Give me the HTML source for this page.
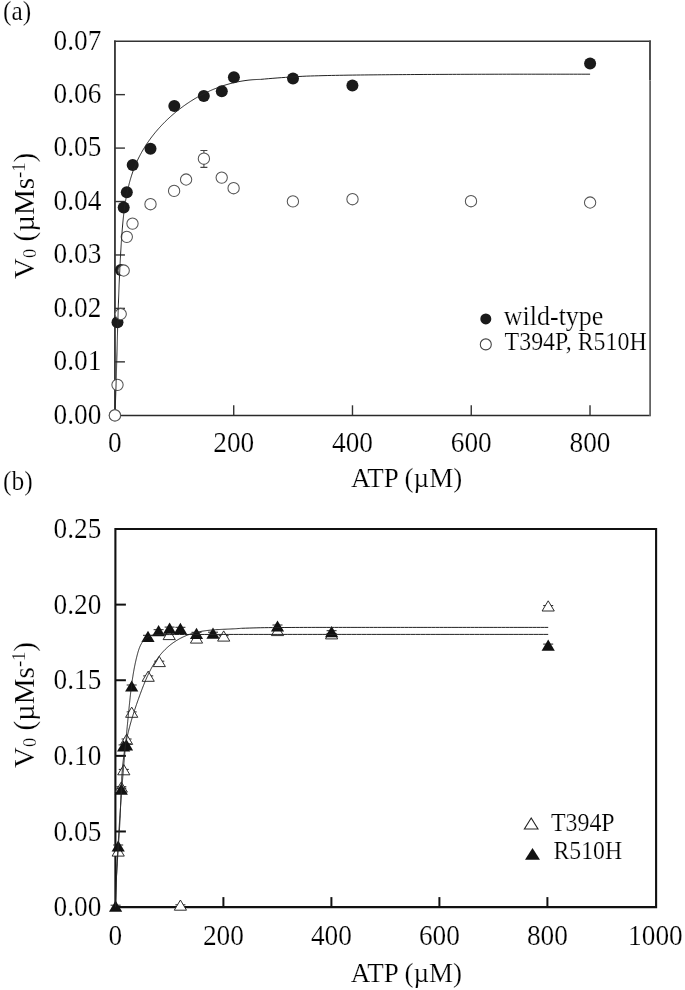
<!DOCTYPE html>
<html><head><meta charset="utf-8"><title>ATP kinetics</title>
<style>
html,body{margin:0;padding:0;background:#fff;width:685px;height:990px;overflow:hidden}
svg{display:block;will-change:transform}
text{font-family:"Liberation Serif",serif;fill:#000;stroke:#fff;stroke-width:0.2px;paint-order:normal}
</style></head>
<body>
<svg width="685" height="990" viewBox="0 0 685 990">
<rect width="685" height="990" fill="#fff"/>
<line x1="114.95" y1="40.400000000000006" x2="114.95" y2="416.1" stroke="#333" stroke-width="1.8"/>
<line x1="114.05" y1="41.2" x2="650.9" y2="41.2" stroke="#333" stroke-width="1.6"/>
<line x1="114.05" y1="415.5" x2="650.9" y2="415.5" stroke="#2a2a2a" stroke-width="1.5"/>
<line x1="650.0" y1="40.400000000000006" x2="650.0" y2="80.6" stroke="#484848" stroke-width="1.9"/>
<line x1="650.1" y1="80.6" x2="650.1" y2="416.1" stroke="#646464" stroke-width="1.8"/>
<line x1="233.72" y1="415.3" x2="233.72" y2="405.3" stroke="#333" stroke-width="1.4"/>
<line x1="352.48" y1="415.3" x2="352.48" y2="405.3" stroke="#333" stroke-width="1.4"/>
<line x1="471.25" y1="415.3" x2="471.25" y2="405.3" stroke="#333" stroke-width="1.4"/>
<line x1="590.02" y1="415.3" x2="590.02" y2="405.3" stroke="#333" stroke-width="1.4"/>
<line x1="114.95" y1="361.86" x2="124.95" y2="361.86" stroke="#333" stroke-width="1.4"/>
<line x1="114.95" y1="308.41" x2="124.95" y2="308.41" stroke="#333" stroke-width="1.4"/>
<line x1="114.95" y1="254.97" x2="124.95" y2="254.97" stroke="#333" stroke-width="1.4"/>
<line x1="114.95" y1="201.53" x2="124.95" y2="201.53" stroke="#333" stroke-width="1.4"/>
<line x1="114.95" y1="148.09" x2="124.95" y2="148.09" stroke="#333" stroke-width="1.4"/>
<line x1="114.95" y1="94.64" x2="124.95" y2="94.64" stroke="#333" stroke-width="1.4"/>
<circle cx="117.5" cy="322.2" r="6.0" fill="#1a1a1a"/>
<circle cx="120.9" cy="270" r="6.0" fill="#1a1a1a"/>
<circle cx="123.7" cy="207.5" r="6.0" fill="#1a1a1a"/>
<circle cx="126.8" cy="192.2" r="6.0" fill="#1a1a1a"/>
<circle cx="132.7" cy="165.1" r="6.0" fill="#1a1a1a"/>
<circle cx="150.5" cy="148.8" r="6.0" fill="#1a1a1a"/>
<circle cx="174.3" cy="105.9" r="6.0" fill="#1a1a1a"/>
<circle cx="203.8" cy="95.9" r="6.0" fill="#1a1a1a"/>
<circle cx="221.8" cy="91.2" r="6.0" fill="#1a1a1a"/>
<circle cx="233.9" cy="77.2" r="6.0" fill="#1a1a1a"/>
<circle cx="293" cy="78.4" r="6.0" fill="#1a1a1a"/>
<circle cx="352.4" cy="85.6" r="6.0" fill="#1a1a1a"/>
<circle cx="590.1" cy="63.6" r="6.0" fill="#1a1a1a"/>
<path d="M203.9,150.5 V167.4 M200.4,150.5 H207.4 M200.4,167.4 H207.4" stroke="#444" stroke-width="1.1" fill="none"/>
<circle cx="114.9" cy="415.4" r="5.65" fill="#fff" stroke="#555" stroke-width="1.05"/>
<circle cx="117.5" cy="384.8" r="5.65" fill="#fff" stroke="#555" stroke-width="1.05"/>
<circle cx="120.7" cy="314" r="5.65" fill="#fff" stroke="#555" stroke-width="1.05"/>
<circle cx="123.7" cy="270.5" r="5.65" fill="#fff" stroke="#555" stroke-width="1.05"/>
<circle cx="126.8" cy="236.8" r="5.65" fill="#fff" stroke="#555" stroke-width="1.05"/>
<circle cx="132.5" cy="223.6" r="5.65" fill="#fff" stroke="#555" stroke-width="1.05"/>
<circle cx="150.5" cy="204.2" r="5.65" fill="#fff" stroke="#555" stroke-width="1.05"/>
<circle cx="174.1" cy="190.9" r="5.65" fill="#fff" stroke="#555" stroke-width="1.05"/>
<circle cx="186.1" cy="179.5" r="5.65" fill="#fff" stroke="#555" stroke-width="1.05"/>
<circle cx="203.9" cy="158.7" r="5.65" fill="#fff" stroke="#555" stroke-width="1.05"/>
<circle cx="221.7" cy="177.6" r="5.65" fill="#fff" stroke="#555" stroke-width="1.05"/>
<circle cx="233.6" cy="188.2" r="5.65" fill="#fff" stroke="#555" stroke-width="1.05"/>
<circle cx="292.9" cy="201.4" r="5.65" fill="#fff" stroke="#555" stroke-width="1.05"/>
<circle cx="352.5" cy="199.2" r="5.65" fill="#fff" stroke="#555" stroke-width="1.05"/>
<circle cx="471" cy="201.2" r="5.65" fill="#fff" stroke="#555" stroke-width="1.05"/>
<circle cx="590.1" cy="202.5" r="5.65" fill="#fff" stroke="#555" stroke-width="1.05"/>
<path d="M114.95,415.30 L114.99,414.29 L115.03,413.28 L115.08,412.27 L115.12,411.26 L115.16,410.25 L115.20,409.24 L115.24,408.22 L115.28,407.21 L115.32,406.20 L115.35,405.18 L115.39,404.17 L115.43,403.16 L115.47,402.14 L115.50,401.13 L115.54,400.11 L115.58,399.09 L115.61,398.08 L115.65,397.06 L115.68,396.04 L115.72,395.02 L115.75,394.00 L115.79,392.98 L115.82,391.96 L115.86,390.94 L115.89,389.92 L115.92,388.90 L115.95,387.88 L115.99,386.86 L116.02,385.84 L116.05,384.81 L116.08,383.79 L116.12,382.77 L116.15,381.74 L116.18,380.72 L116.21,379.69 L116.24,378.67 L116.27,377.64 L116.30,376.62 L116.33,375.59 L116.36,374.56 L116.39,373.54 L116.42,372.51 L116.45,371.48 L116.48,370.45 L116.51,369.43 L116.54,368.40 L116.57,367.37 L116.60,366.34 L116.62,365.31 L116.65,364.28 L116.68,363.25 L116.71,362.22 L116.74,361.19 L116.77,360.15 L116.80,359.12 L116.82,358.09 L116.85,357.06 L116.88,356.03 L116.91,354.99 L116.94,353.96 L116.96,352.93 L116.99,351.89 L117.02,350.86 L117.05,349.82 L117.08,348.79 L117.10,347.75 L117.13,346.72 L117.16,345.68 L117.19,344.65 L117.22,343.61 L117.24,342.58 L117.27,341.54 L117.30,340.50 L117.33,339.47 L117.36,338.43 L117.39,337.39 L117.42,336.36 L117.44,335.32 L117.47,334.28 L117.50,333.24 L117.53,332.20 L117.56,331.16 L117.59,330.13 L117.62,329.09 L117.65,328.05 L117.68,327.01 L117.71,325.97 L117.74,324.93 L117.77,323.89 L117.80,322.85 L117.83,321.81 L117.86,320.77 L117.89,319.73 L117.93,318.69 L117.96,317.65 L117.99,316.61 L118.02,315.57 L118.05,314.53 L118.09,313.48 L118.12,312.44 L118.15,311.40 L118.19,310.36 L118.22,309.32 L118.25,308.28 L118.29,307.23 L118.32,306.19 L118.36,305.15 L118.39,304.11 L118.43,303.07 L118.47,302.02 L118.50,300.98 L118.54,299.94 L118.58,298.90 L118.61,297.85 L118.65,296.81 L118.69,295.77 L118.73,294.72 L118.77,293.68 L118.81,292.64 L118.85,291.60 L118.89,290.55 L118.93,289.51 L118.97,288.47 L119.01,287.42 L119.05,286.38 L119.09,285.34 L119.14,284.29 L119.18,283.25 L119.23,282.21 L119.27,281.17 L119.31,280.12 L119.36,279.08 L119.41,278.04 L119.45,276.99 L119.50,275.95 L119.55,274.91 L119.59,273.86 L119.64,272.82 L119.69,271.78 L119.74,270.73 L119.79,269.69 L119.84,268.65 L119.89,267.61 L119.95,266.56 L120.00,265.52 L120.05,264.48 L120.11,263.44 L120.16,262.39 L120.22,261.35 L120.27,260.31 L120.33,259.27 L120.38,258.23 L120.44,257.18 L120.50,256.14 L120.56,255.10 L120.62,254.06 L120.68,253.02 L120.74,251.97 L120.80,250.93 L120.86,249.89 L120.93,248.85 L120.99,247.81 L121.06,246.77 L121.12,245.73 L121.19,244.69 L121.25,243.65 L121.32,242.61 L121.39,241.57 L121.46,240.53 L121.53,239.49 L121.60,238.45 L121.67,237.41 L121.74,236.37 L121.82,235.33 L121.89,234.29 L121.97,233.26 L122.05,232.22 L122.13,231.18 L122.21,230.14 L122.29,229.11 L122.37,228.07 L122.46,227.04 L122.55,226.00 L122.64,224.97 L122.73,223.93 L122.82,222.90 L122.92,221.87 L123.02,220.84 L123.12,219.81 L123.23,218.78 L123.33,217.75 L123.44,216.72 L123.56,215.70 L123.67,214.67 L123.79,213.65 L123.91,212.62 L124.04,211.60 L124.16,210.58 L124.30,209.56 L124.43,208.54 L124.57,207.52 L124.71,206.51 L124.86,205.49 L125.01,204.48 L125.16,203.46 L125.32,202.45 L125.48,201.44 L125.65,200.43 L125.82,199.43 L125.99,198.42 L126.17,197.42 L126.36,196.42 L126.55,195.42 L126.74,194.42 L126.94,193.42 L127.15,192.43 L127.35,191.43 L127.57,190.44 L127.79,189.45 L128.01,188.46 L128.24,187.48 L128.48,186.49 L128.72,185.51 L128.97,184.53 L129.22,183.55 L129.48,182.58 L129.74,181.60 L130.01,180.63 L130.29,179.66 L130.57,178.69 L130.86,177.73 L131.16,176.77 L131.46,175.81 L131.77,174.85 L132.09,173.89 L132.41,172.94 L132.74,171.99 L133.08,171.04 L133.42,170.09 L133.77,169.15 L134.13,168.21 L134.50,167.27 L134.87,166.34 L135.25,165.41 L135.64,164.48 L136.04,163.55 L136.44,162.63 L136.86,161.70 L137.28,160.79 L137.70,159.87 L138.14,158.96 L138.59,158.05 L139.04,157.14 L139.50,156.24 L139.97,155.34 L140.44,154.44 L140.93,153.55 L141.42,152.66 L141.92,151.77 L142.43,150.89 L142.94,150.01 L143.46,149.13 L143.99,148.26 L144.53,147.39 L145.07,146.52 L145.62,145.66 L146.18,144.80 L146.75,143.94 L147.32,143.09 L147.90,142.24 L148.49,141.40 L149.08,140.56 L149.68,139.72 L150.29,138.89 L150.90,138.06 L151.52,137.23 L152.15,136.41 L152.78,135.59 L153.42,134.78 L154.06,133.97 L154.72,133.17 L155.37,132.37 L156.04,131.57 L156.71,130.78 L157.38,129.99 L158.07,129.21 L158.76,128.43 L159.45,127.66 L160.15,126.89 L160.85,126.13 L161.57,125.37 L162.28,124.61 L163.00,123.86 L163.73,123.11 L164.47,122.37 L165.20,121.64 L165.95,120.90 L166.70,120.18 L167.45,119.46 L168.21,118.74 L168.97,118.03 L169.74,117.32 L170.52,116.62 L171.29,115.92 L172.08,115.23 L172.87,114.55 L173.66,113.87 L174.46,113.19 L175.26,112.52 L176.07,111.86 L176.88,111.20 L177.69,110.55 L178.51,109.90 L179.33,109.25 L180.16,108.62 L180.99,107.99 L181.83,107.36 L182.67,106.74 L183.51,106.13 L184.36,105.52 L185.21,104.92 L186.07,104.32 L186.93,103.73 L187.79,103.15 L188.66,102.57 L189.53,102.00 L190.40,101.43 L191.28,100.87 L192.16,100.32 L193.04,99.77 L193.93,99.23 L194.82,98.69 L195.72,98.16 L196.62,97.64 L197.52,97.12 L198.42,96.62 L199.33,96.11 L200.24,95.62 L201.16,95.13 L202.08,94.64 L203.00,94.17 L203.92,93.70 L204.85,93.23 L205.78,92.78 L206.71,92.33 L207.65,91.89 L208.59,91.45 L209.53,91.02 L210.47,90.60 L211.42,90.19 L212.37,89.78 L213.32,89.38 L214.28,88.99 L215.24,88.60 L216.20,88.22 L217.16,87.85 L218.12,87.49 L219.09,87.13 L220.06,86.78 L221.03,86.44 L222.01,86.11 L222.99,85.78 L223.97,85.46 L224.95,85.15 L225.93,84.85 L226.92,84.55 L227.91,84.27 L228.90,83.99 L229.89,83.71 L230.88,83.45 L231.88,83.19 L232.88,82.94 L233.88,82.70 L234.88,82.47 L235.88,82.25 L236.89,82.03 L237.89,81.82 L238.90,81.62 L239.91,81.43 L240.92,81.25 L241.94,81.07 L242.95,80.91 L243.97,80.75 L244.99,80.60 L246.01,80.46 L247.03,80.33 L248.05,80.20 L249.07,80.09 L250.10,79.98 L251.12,79.88 L252.15,79.79 L253.18,79.71 L254.21,79.64 L255.24,79.58 L256.27,79.53 L257.30,79.48 L258.33,79.45 L259.37,79.42 L260.40,79.40 L264.57,79.02 L268.75,78.65 L272.92,78.30 L277.09,77.98 L281.27,77.67 L285.44,77.38 L289.61,77.09 L293.79,76.82 L297.96,76.56 L302.13,76.33 L306.31,76.13 L310.48,75.99 L314.65,75.86 L318.83,75.75 L323.00,75.64 L327.17,75.54 L331.35,75.45 L335.52,75.37 L339.69,75.29 L343.87,75.22 L348.04,75.15 L352.22,75.10 L356.39,75.04 L360.56,74.99 L364.74,74.95 L368.91,74.90 L373.08,74.86 L377.26,74.82 L381.43,74.78 L385.60,74.74 L389.78,74.71 L393.95,74.67 L398.12,74.64 L402.30,74.61 L406.47,74.58 L410.64,74.55 L414.82,74.52 L418.99,74.50 L423.16,74.48 L427.34,74.45 L431.51,74.44 L435.68,74.42 L439.86,74.40 L444.03,74.38 L448.20,74.37 L452.38,74.35 L456.55,74.34 L460.72,74.32 L464.90,74.31 L469.07,74.30 L473.24,74.28 L477.42,74.27 L481.59,74.26 L485.76,74.25 L489.94,74.24 L494.11,74.23 L498.28,74.22 L502.46,74.21 L506.63,74.21 L510.81,74.20 L514.98,74.20 L519.15,74.20 L523.33,74.20 L527.50,74.20 L531.67,74.20 L535.85,74.20 L540.02,74.20 L544.19,74.20 L548.37,74.20 L552.54,74.20 L556.71,74.20 L560.89,74.20 L565.06,74.20 L569.23,74.20 L573.41,74.20 L577.58,74.20 L581.75,74.20 L585.93,74.20 L590.10,74.20" fill="none" stroke="#222" stroke-width="1.0" stroke-linejoin="round"/>
<circle cx="114.9" cy="415.4" r="5.65" fill="#fff" stroke="#555" stroke-width="1.05"/>
<circle cx="485.8" cy="318.9" r="5.5" fill="#1a1a1a"/>
<circle cx="485.8" cy="344.4" r="5.5" fill="#fff" stroke="#444" stroke-width="1.1"/>
<text transform="translate(503.8,324.5) scale(1,1.05)" font-size="26">wild-type</text>
<text transform="translate(504.6,349.5) scale(1,1.05)" font-size="23.9">T394P, R510H</text>
<text transform="translate(101.3,423.70) scale(1,1.05)" font-size="27.3" text-anchor="end">0.00</text>
<text transform="translate(101.3,370.26) scale(1,1.05)" font-size="27.3" text-anchor="end">0.01</text>
<text transform="translate(101.3,316.81) scale(1,1.05)" font-size="27.3" text-anchor="end">0.02</text>
<text transform="translate(101.3,263.37) scale(1,1.05)" font-size="27.3" text-anchor="end">0.03</text>
<text transform="translate(101.3,209.93) scale(1,1.05)" font-size="27.3" text-anchor="end">0.04</text>
<text transform="translate(101.3,156.49) scale(1,1.05)" font-size="27.3" text-anchor="end">0.05</text>
<text transform="translate(101.3,103.04) scale(1,1.05)" font-size="27.3" text-anchor="end">0.06</text>
<text transform="translate(101.3,49.60) scale(1,1.05)" font-size="27.3" text-anchor="end">0.07</text>
<text transform="translate(114.95,452) scale(1,1.05)" font-size="27.3" text-anchor="middle">0</text>
<text transform="translate(233.72,452) scale(1,1.05)" font-size="27.3" text-anchor="middle">200</text>
<text transform="translate(352.48,452) scale(1,1.05)" font-size="27.3" text-anchor="middle">400</text>
<text transform="translate(471.25,452) scale(1,1.05)" font-size="27.3" text-anchor="middle">600</text>
<text transform="translate(590.02,452) scale(1,1.05)" font-size="27.3" text-anchor="middle">800</text>
<text transform="translate(406.5,486.6) scale(1,1.05)" font-size="27.0" text-anchor="middle">ATP (µM)</text>
<text transform="translate(33.9,278.9) rotate(-90)" font-size="29">V<tspan font-size="18.5" dy="2">0</tspan><tspan dy="-2"> (µMs</tspan><tspan font-size="18.5" dy="-8.6">-1</tspan><tspan dy="8.6">)</tspan></text>
<text transform="translate(3,19.6) scale(1,1.05)" font-size="25.5">(a)</text>
<path d="M115.4,529.0 H656.1 V907.1 H115.4 Z" fill="none" stroke="#111" stroke-width="2.1"/>
<line x1="223.40" y1="907.1" x2="223.40" y2="897.1" stroke="#111" stroke-width="2"/>
<line x1="331.40" y1="907.1" x2="331.40" y2="897.1" stroke="#111" stroke-width="2"/>
<line x1="439.40" y1="907.1" x2="439.40" y2="897.1" stroke="#111" stroke-width="2"/>
<line x1="547.40" y1="907.1" x2="547.40" y2="897.1" stroke="#111" stroke-width="2"/>
<line x1="115.4" y1="831.48" x2="125.9" y2="831.48" stroke="#111" stroke-width="2"/>
<line x1="115.4" y1="755.86" x2="125.9" y2="755.86" stroke="#111" stroke-width="2"/>
<line x1="115.4" y1="680.24" x2="125.9" y2="680.24" stroke="#111" stroke-width="2"/>
<line x1="115.4" y1="604.62" x2="125.9" y2="604.62" stroke="#111" stroke-width="2"/>
<line x1="113.20" y1="850.70" x2="123.20" y2="850.70" stroke="#222" stroke-width="1"/>
<polygon points="118.20,845.90 124.30,856.10 112.10,856.10" fill="#fff" stroke="#222" stroke-width="0.95" stroke-linejoin="miter"/>
<line x1="116.30" y1="786.70" x2="126.30" y2="786.70" stroke="#222" stroke-width="1"/>
<polygon points="121.30,781.90 127.40,792.10 115.20,792.10" fill="#fff" stroke="#222" stroke-width="0.95" stroke-linejoin="miter"/>
<line x1="118.80" y1="769.40" x2="128.80" y2="769.40" stroke="#222" stroke-width="1"/>
<polygon points="123.80,764.60 129.90,774.80 117.70,774.80" fill="#fff" stroke="#222" stroke-width="0.95" stroke-linejoin="miter"/>
<line x1="121.60" y1="739.00" x2="131.60" y2="739.00" stroke="#222" stroke-width="1"/>
<polygon points="126.60,734.20 132.70,744.40 120.50,744.40" fill="#fff" stroke="#222" stroke-width="0.95" stroke-linejoin="miter"/>
<line x1="126.70" y1="711.90" x2="136.70" y2="711.90" stroke="#222" stroke-width="1"/>
<polygon points="131.70,707.10 137.80,717.30 125.60,717.30" fill="#fff" stroke="#222" stroke-width="0.95" stroke-linejoin="miter"/>
<line x1="143.20" y1="675.90" x2="153.20" y2="675.90" stroke="#222" stroke-width="1"/>
<polygon points="148.20,671.10 154.30,681.30 142.10,681.30" fill="#fff" stroke="#222" stroke-width="0.95" stroke-linejoin="miter"/>
<line x1="154.30" y1="661.20" x2="164.30" y2="661.20" stroke="#222" stroke-width="1"/>
<polygon points="159.30,656.40 165.40,666.60 153.20,666.60" fill="#fff" stroke="#222" stroke-width="0.95" stroke-linejoin="miter"/>
<line x1="164.20" y1="634.20" x2="174.20" y2="634.20" stroke="#222" stroke-width="1"/>
<polygon points="169.20,629.40 175.30,639.60 163.10,639.60" fill="#fff" stroke="#222" stroke-width="0.95" stroke-linejoin="miter"/>
<line x1="175.40" y1="904.80" x2="185.40" y2="904.80" stroke="#222" stroke-width="1"/>
<polygon points="180.40,900.00 186.50,910.20 174.30,910.20" fill="#fff" stroke="#222" stroke-width="0.95" stroke-linejoin="miter"/>
<line x1="191.50" y1="637.70" x2="201.50" y2="637.70" stroke="#222" stroke-width="1"/>
<polygon points="196.50,632.90 202.60,643.10 190.40,643.10" fill="#fff" stroke="#222" stroke-width="0.95" stroke-linejoin="miter"/>
<line x1="218.70" y1="635.70" x2="228.70" y2="635.70" stroke="#222" stroke-width="1"/>
<polygon points="223.70,630.90 229.80,641.10 217.60,641.10" fill="#fff" stroke="#222" stroke-width="0.95" stroke-linejoin="miter"/>
<line x1="272.50" y1="630.20" x2="282.50" y2="630.20" stroke="#222" stroke-width="1"/>
<polygon points="277.50,625.40 283.60,635.60 271.40,635.60" fill="#fff" stroke="#222" stroke-width="0.95" stroke-linejoin="miter"/>
<line x1="326.60" y1="633.50" x2="336.60" y2="633.50" stroke="#222" stroke-width="1"/>
<polygon points="331.60,628.70 337.70,638.90 325.50,638.90" fill="#fff" stroke="#222" stroke-width="0.95" stroke-linejoin="miter"/>
<line x1="543.20" y1="605.60" x2="553.20" y2="605.60" stroke="#222" stroke-width="1"/>
<polygon points="548.20,600.80 554.30,611.00 542.10,611.00" fill="#fff" stroke="#222" stroke-width="0.95" stroke-linejoin="miter"/>
<line x1="110.60" y1="905.20" x2="120.60" y2="905.20" stroke="#222" stroke-width="1"/>
<polygon points="115.60,900.60 122.20,911.80 109.00,911.80" fill="#111"/>
<line x1="113.20" y1="845.00" x2="123.20" y2="845.00" stroke="#222" stroke-width="1"/>
<polygon points="118.20,840.40 124.80,851.60 111.60,851.60" fill="#111"/>
<line x1="116.30" y1="788.20" x2="126.30" y2="788.20" stroke="#222" stroke-width="1"/>
<polygon points="121.30,783.60 127.90,794.80 114.70,794.80" fill="#111"/>
<line x1="118.60" y1="744.90" x2="128.60" y2="744.90" stroke="#222" stroke-width="1"/>
<polygon points="123.60,740.30 130.20,751.50 117.00,751.50" fill="#111"/>
<line x1="121.50" y1="743.80" x2="131.50" y2="743.80" stroke="#222" stroke-width="1"/>
<polygon points="126.50,739.20 133.10,750.40 119.90,750.40" fill="#111"/>
<line x1="126.70" y1="685.00" x2="136.70" y2="685.00" stroke="#222" stroke-width="1"/>
<polygon points="131.70,680.40 138.30,691.60 125.10,691.60" fill="#111"/>
<line x1="143.00" y1="635.30" x2="153.00" y2="635.30" stroke="#222" stroke-width="1"/>
<polygon points="148.00,630.70 154.60,641.90 141.40,641.90" fill="#111"/>
<line x1="153.60" y1="629.70" x2="163.60" y2="629.70" stroke="#222" stroke-width="1"/>
<polygon points="158.60,625.10 165.20,636.30 152.00,636.30" fill="#111"/>
<line x1="164.60" y1="627.10" x2="174.60" y2="627.10" stroke="#222" stroke-width="1"/>
<polygon points="169.60,622.50 176.20,633.70 163.00,633.70" fill="#111"/>
<line x1="175.40" y1="627.30" x2="185.40" y2="627.30" stroke="#222" stroke-width="1"/>
<polygon points="180.40,622.70 187.00,633.90 173.80,633.90" fill="#111"/>
<line x1="191.50" y1="632.30" x2="201.50" y2="632.30" stroke="#222" stroke-width="1"/>
<polygon points="196.50,627.70 203.10,638.90 189.90,638.90" fill="#111"/>
<line x1="208.00" y1="632.20" x2="218.00" y2="632.20" stroke="#222" stroke-width="1"/>
<polygon points="213.00,627.60 219.60,638.80 206.40,638.80" fill="#111"/>
<line x1="272.50" y1="625.00" x2="282.50" y2="625.00" stroke="#222" stroke-width="1"/>
<polygon points="277.50,620.40 284.10,631.60 270.90,631.60" fill="#111"/>
<line x1="326.60" y1="630.70" x2="336.60" y2="630.70" stroke="#222" stroke-width="1"/>
<polygon points="331.60,626.10 338.20,637.30 325.00,637.30" fill="#111"/>
<line x1="543.20" y1="644.10" x2="553.20" y2="644.10" stroke="#222" stroke-width="1"/>
<polygon points="548.20,639.50 554.80,650.70 541.60,650.70" fill="#111"/>
<path d="M115.40,907.10 L115.42,906.37 L115.45,905.64 L115.47,904.91 L115.49,904.18 L115.51,903.45 L115.54,902.72 L115.56,901.99 L115.59,901.27 L115.61,900.54 L115.64,899.81 L115.66,899.08 L115.68,898.35 L115.71,897.62 L115.74,896.90 L115.76,896.17 L115.79,895.44 L115.81,894.72 L115.84,893.99 L115.86,893.26 L115.89,892.54 L115.92,891.81 L115.95,891.08 L115.97,890.36 L116.00,889.63 L116.03,888.91 L116.06,888.18 L116.08,887.45 L116.11,886.73 L116.14,886.00 L116.17,885.28 L116.20,884.56 L116.23,883.83 L116.26,883.11 L116.29,882.38 L116.32,881.66 L116.35,880.93 L116.38,880.21 L116.41,879.49 L116.44,878.76 L116.47,878.04 L116.50,877.32 L116.53,876.60 L116.56,875.87 L116.59,875.15 L116.63,874.43 L116.66,873.70 L116.69,872.98 L116.72,872.26 L116.76,871.54 L116.79,870.82 L116.82,870.10 L116.86,869.37 L116.89,868.65 L116.92,867.93 L116.96,867.21 L116.99,866.49 L117.03,865.77 L117.06,865.05 L117.09,864.33 L117.13,863.61 L117.17,862.89 L117.20,862.17 L117.24,861.45 L117.27,860.73 L117.31,860.01 L117.34,859.29 L117.38,858.57 L117.42,857.85 L117.45,857.13 L117.49,856.41 L117.53,855.69 L117.57,854.97 L117.60,854.25 L117.64,853.53 L117.68,852.81 L117.72,852.09 L117.76,851.38 L117.79,850.66 L117.83,849.94 L117.87,849.22 L117.91,848.50 L117.95,847.78 L117.99,847.07 L118.03,846.35 L118.07,845.63 L118.11,844.91 L118.15,844.19 L118.19,843.48 L118.23,842.76 L118.27,842.04 L118.31,841.32 L118.36,840.61 L118.40,839.89 L118.44,839.17 L118.48,838.46 L118.52,837.74 L118.57,837.02 L118.61,836.30 L118.65,835.59 L118.69,834.87 L118.74,834.15 L118.78,833.44 L118.82,832.72 L118.87,832.00 L118.91,831.29 L118.96,830.57 L119.00,829.86 L119.04,829.14 L119.09,828.42 L119.13,827.71 L119.18,826.99 L119.22,826.27 L119.27,825.56 L119.32,824.84 L119.36,824.13 L119.41,823.41 L119.45,822.70 L119.50,821.98 L119.55,821.26 L119.59,820.55 L119.64,819.83 L119.69,819.12 L119.73,818.40 L119.78,817.69 L119.83,816.97 L119.88,816.25 L119.93,815.54 L119.97,814.82 L120.02,814.11 L120.07,813.39 L120.12,812.68 L120.17,811.96 L120.22,811.25 L120.27,810.53 L120.32,809.82 L120.37,809.10 L120.42,808.38 L120.47,807.67 L120.52,806.95 L120.57,806.24 L120.62,805.52 L120.67,804.81 L120.72,804.09 L120.77,803.38 L120.82,802.66 L120.87,801.95 L120.93,801.23 L120.98,800.52 L121.03,799.80 L121.08,799.09 L121.13,798.37 L121.19,797.66 L121.24,796.94 L121.29,796.23 L121.35,795.51 L121.40,794.79 L121.45,794.08 L121.51,793.36 L121.56,792.65 L121.61,791.93 L121.67,791.22 L121.72,790.50 L121.78,789.79 L121.83,789.07 L121.89,788.36 L121.94,787.64 L122.00,786.93 L122.05,786.21 L122.11,785.49 L122.16,784.78 L122.22,784.06 L122.28,783.35 L122.33,782.63 L122.39,781.92 L122.45,781.20 L122.50,780.48 L122.56,779.77 L122.62,779.05 L122.67,778.34 L122.73,777.62 L122.79,776.90 L122.85,776.19 L122.91,775.47 L122.96,774.76 L123.02,774.04 L123.08,773.32 L123.14,772.61 L123.20,771.89 L123.26,771.17 L123.32,770.46 L123.38,769.74 L123.43,769.02 L123.49,768.31 L123.55,767.59 L123.61,766.87 L123.67,766.16 L123.73,765.44 L123.80,764.72 L123.86,764.00 L123.92,763.29 L123.98,762.57 L124.04,761.85 L124.10,761.13 L124.16,760.42 L124.22,759.70 L124.29,758.98 L124.35,758.26 L124.41,757.55 L124.47,756.83 L124.53,756.11 L124.60,755.39 L124.66,754.67 L124.72,753.96 L124.79,753.24 L124.85,752.52 L124.91,751.80 L124.98,751.08 L125.04,750.36 L125.10,749.64 L125.17,748.92 L125.23,748.20 L125.30,747.49 L125.36,746.77 L125.43,746.05 L125.49,745.33 L125.56,744.61 L125.62,743.89 L125.69,743.17 L125.75,742.45 L125.82,741.73 L125.88,741.01 L125.95,740.29 L126.02,739.57 L126.08,738.85 L126.15,738.12 L126.22,737.40 L126.28,736.68 L126.35,735.96 L126.42,735.24 L126.48,734.52 L126.55,733.80 L126.62,733.08 L126.69,732.35 L126.75,731.63 L126.82,730.91 L126.89,730.19 L126.96,729.46 L127.03,728.74 L127.10,728.02 L127.17,727.30 L127.23,726.57 L127.30,725.85 L127.37,725.13 L127.44,724.40 L127.51,723.68 L127.58,722.96 L127.65,722.23 L127.72,721.51 L127.79,720.78 L127.86,720.06 L127.93,719.34 L128.00,718.61 L128.07,717.89 L128.14,717.16 L128.22,716.44 L128.29,715.71 L128.36,714.98 L128.43,714.26 L128.50,713.53 L128.57,712.81 L128.64,712.08 L128.72,711.35 L128.79,710.63 L128.86,709.90 L128.93,709.17 L129.01,708.45 L129.08,707.72 L129.15,706.99 L129.23,706.26 L129.30,705.54 L129.37,704.81 L129.45,704.08 L129.52,703.35 L129.60,702.63 L129.67,701.90 L129.75,701.17 L129.82,700.44 L129.90,699.71 L129.98,698.98 L130.05,698.26 L130.13,697.53 L130.21,696.80 L130.29,696.07 L130.37,695.35 L130.45,694.62 L130.53,693.89 L130.62,693.17 L130.70,692.44 L130.78,691.71 L130.87,690.99 L130.96,690.26 L131.04,689.54 L131.13,688.81 L131.22,688.09 L131.31,687.36 L131.40,686.64 L131.50,685.91 L131.59,685.19 L131.69,684.47 L131.78,683.75 L131.88,683.03 L131.98,682.31 L132.08,681.58 L132.18,680.86 L132.29,680.15 L132.39,679.43 L132.50,678.71 L132.60,677.99 L132.71,677.28 L132.83,676.56 L132.94,675.84 L133.05,675.13 L133.17,674.42 L133.29,673.70 L133.41,672.99 L133.53,672.28 L133.65,671.57 L133.78,670.86 L133.91,670.15 L134.03,669.44 L134.17,668.74 L134.30,668.03 L134.43,667.33 L134.57,666.62 L134.71,665.92 L134.85,665.22 L135.00,664.52 L135.14,663.82 L135.29,663.12 L135.44,662.42 L135.60,661.72 L135.75,661.03 L135.91,660.33 L136.07,659.64 L136.23,658.95 L136.40,658.26 L136.57,657.57 L136.74,656.88 L136.91,656.19 L137.09,655.51 L137.27,654.83 L137.45,654.14 L137.63,653.46 L137.82,652.78 L138.01,652.11 L138.21,651.44 L138.42,650.77 L138.63,650.11 L138.85,649.45 L139.07,648.80 L139.31,648.16 L139.55,647.53 L139.81,646.90 L140.07,646.28 L140.35,645.67 L140.64,645.07 L140.93,644.48 L141.25,643.90 L141.57,643.33 L141.91,642.78 L142.27,642.24 L142.64,641.71 L143.03,641.19 L143.43,640.69 L143.86,640.21 L144.30,639.74 L144.75,639.29 L145.23,638.85 L145.73,638.43 L146.25,638.03 L146.79,637.65 L147.34,637.29 L147.92,636.95 L148.52,636.63 L149.14,636.33 L149.78,636.05 L150.44,635.79 L151.12,635.56 L151.82,635.35 L152.54,635.17 L153.29,635.01 L154.05,634.87 L154.84,634.77 L155.64,634.69 L156.47,634.63 L157.32,634.60 L158.19,634.61 L159.09,634.64 L160.00,634.70 L164.91,634.64 L169.83,634.58 L174.74,634.53 L179.66,634.50 L184.57,634.49 L189.48,634.48 L194.40,634.47 L199.31,634.47 L204.23,634.46 L209.14,634.45 L214.05,634.45 L218.97,634.44 L223.88,634.44 L228.80,634.43 L233.71,634.43 L238.62,634.42 L243.54,634.42 L248.45,634.42 L253.37,634.41 L258.28,634.41 L263.19,634.41 L268.11,634.41 L273.02,634.40 L277.93,634.40 L282.85,634.40 L287.76,634.40 L292.68,634.40 L297.59,634.40 L302.50,634.40 L307.42,634.40 L312.33,634.40 L317.25,634.40 L322.16,634.40 L327.07,634.40 L331.99,634.40 L336.90,634.40 L341.82,634.40 L346.73,634.40 L351.64,634.40 L356.56,634.40 L361.47,634.40 L366.39,634.40 L371.30,634.40 L376.21,634.40 L381.13,634.40 L386.04,634.40 L390.95,634.40 L395.87,634.40 L400.78,634.40 L405.70,634.40 L410.61,634.40 L415.52,634.40 L420.44,634.40 L425.35,634.40 L430.27,634.40 L435.18,634.40 L440.09,634.40 L445.01,634.40 L449.92,634.40 L454.84,634.40 L459.75,634.40 L464.66,634.40 L469.58,634.40 L474.49,634.40 L479.41,634.40 L484.32,634.40 L489.23,634.40 L494.15,634.40 L499.06,634.40 L503.97,634.40 L508.89,634.40 L513.80,634.40 L518.72,634.40 L523.63,634.40 L528.54,634.40 L533.46,634.40 L538.37,634.40 L543.29,634.40 L548.20,634.40" fill="none" stroke="#222" stroke-width="1.0" stroke-linejoin="round"/>
<path d="M115.40,907.10 L115.41,906.23 L115.42,905.35 L115.43,904.48 L115.44,903.60 L115.46,902.73 L115.48,901.85 L115.49,900.98 L115.51,900.10 L115.53,899.22 L115.55,898.35 L115.58,897.47 L115.60,896.60 L115.63,895.72 L115.65,894.85 L115.68,893.97 L115.71,893.10 L115.74,892.22 L115.77,891.35 L115.81,890.47 L115.84,889.59 L115.88,888.72 L115.91,887.84 L115.95,886.97 L115.99,886.09 L116.03,885.21 L116.07,884.34 L116.11,883.46 L116.15,882.59 L116.19,881.71 L116.24,880.84 L116.28,879.96 L116.33,879.08 L116.37,878.21 L116.42,877.33 L116.47,876.46 L116.52,875.58 L116.56,874.70 L116.61,873.83 L116.66,872.95 L116.72,872.08 L116.77,871.20 L116.82,870.32 L116.87,869.45 L116.93,868.57 L116.98,867.70 L117.03,866.82 L117.09,865.95 L117.14,865.07 L117.20,864.19 L117.25,863.32 L117.31,862.44 L117.37,861.57 L117.42,860.69 L117.48,859.82 L117.54,858.94 L117.60,858.06 L117.65,857.19 L117.71,856.31 L117.77,855.44 L117.83,854.56 L117.89,853.69 L117.95,852.81 L118.01,851.94 L118.06,851.06 L118.12,850.19 L118.18,849.31 L118.24,848.44 L118.30,847.56 L118.36,846.69 L118.42,845.81 L118.47,844.94 L118.53,844.06 L118.59,843.19 L118.65,842.31 L118.71,841.44 L118.76,840.56 L118.82,839.69 L118.88,838.81 L118.93,837.94 L118.99,837.07 L119.04,836.19 L119.10,835.32 L119.16,834.44 L119.21,833.57 L119.26,832.70 L119.32,831.82 L119.37,830.95 L119.42,830.08 L119.47,829.20 L119.53,828.33 L119.58,827.46 L119.63,826.58 L119.68,825.71 L119.72,824.84 L119.77,823.97 L119.82,823.09 L119.87,822.22 L119.91,821.35 L119.96,820.48 L120.00,819.60 L120.04,818.73 L120.09,817.86 L120.13,816.99 L120.17,816.12 L120.21,815.24 L120.25,814.37 L120.28,813.50 L120.32,812.63 L120.36,811.76 L120.39,810.89 L120.42,810.02 L120.46,809.15 L120.49,808.28 L120.52,807.41 L120.56,806.54 L120.59,805.67 L120.62,804.80 L120.65,803.93 L120.68,803.06 L120.71,802.19 L120.74,801.32 L120.77,800.45 L120.80,799.58 L120.83,798.71 L120.86,797.84 L120.90,796.98 L120.93,796.11 L120.96,795.24 L120.99,794.37 L121.02,793.50 L121.06,792.64 L121.09,791.77 L121.12,790.90 L121.16,790.03 L121.19,789.17 L121.23,788.30 L121.27,787.43 L121.31,786.57 L121.35,785.70 L121.39,784.84 L121.43,783.97 L121.47,783.10 L121.52,782.24 L121.56,781.37 L121.61,780.51 L121.66,779.64 L121.71,778.78 L121.76,777.91 L121.81,777.05 L121.86,776.19 L121.92,775.32 L121.98,774.46 L122.04,773.60 L122.10,772.73 L122.16,771.87 L122.23,771.01 L122.30,770.14 L122.37,769.28 L122.44,768.42 L122.52,767.56 L122.59,766.70 L122.67,765.84 L122.76,764.98 L122.84,764.11 L122.93,763.25 L123.02,762.39 L123.11,761.53 L123.21,760.67 L123.31,759.81 L123.41,758.95 L123.51,758.10 L123.62,757.24 L123.73,756.38 L123.84,755.52 L123.96,754.66 L124.08,753.80 L124.21,752.95 L124.33,752.09 L124.46,751.23 L124.60,750.37 L124.73,749.52 L124.88,748.66 L125.02,747.81 L125.17,746.95 L125.32,746.09 L125.47,745.24 L125.63,744.38 L125.79,743.53 L125.96,742.67 L126.12,741.82 L126.30,740.97 L126.47,740.11 L126.65,739.26 L126.83,738.41 L127.01,737.55 L127.20,736.70 L127.39,735.85 L127.58,735.00 L127.78,734.15 L127.98,733.30 L128.18,732.44 L128.39,731.59 L128.60,730.74 L128.81,729.89 L129.03,729.04 L129.24,728.20 L129.47,727.35 L129.69,726.50 L129.92,725.65 L130.15,724.80 L130.38,723.95 L130.62,723.11 L130.86,722.26 L131.10,721.41 L131.34,720.57 L131.59,719.72 L131.84,718.87 L132.10,718.03 L132.35,717.18 L132.61,716.34 L132.87,715.49 L133.14,714.65 L133.40,713.81 L133.67,712.96 L133.94,712.12 L134.22,711.28 L134.49,710.43 L134.77,709.59 L135.05,708.75 L135.33,707.91 L135.61,707.07 L135.90,706.23 L136.19,705.39 L136.47,704.55 L136.77,703.71 L137.06,702.87 L137.35,702.03 L137.65,701.19 L137.95,700.35 L138.24,699.52 L138.54,698.68 L138.85,697.84 L139.15,697.01 L139.45,696.17 L139.76,695.33 L140.06,694.50 L140.37,693.66 L140.68,692.83 L140.99,691.99 L141.30,691.16 L141.61,690.33 L141.93,689.50 L142.24,688.67 L142.56,687.84 L142.88,687.01 L143.21,686.19 L143.53,685.36 L143.86,684.54 L144.19,683.72 L144.52,682.90 L144.86,682.08 L145.20,681.27 L145.54,680.45 L145.89,679.64 L146.24,678.84 L146.59,678.03 L146.95,677.23 L147.31,676.43 L147.68,675.64 L148.05,674.84 L148.42,674.05 L148.80,673.27 L149.18,672.48 L149.57,671.70 L149.96,670.93 L150.36,670.16 L150.77,669.39 L151.17,668.63 L151.59,667.87 L152.01,667.11 L152.43,666.36 L152.87,665.62 L153.30,664.88 L153.75,664.14 L154.20,663.41 L154.65,662.68 L155.12,661.96 L155.59,661.24 L156.06,660.53 L156.55,659.83 L157.04,659.13 L157.53,658.44 L158.04,657.75 L158.55,657.07 L159.06,656.39 L159.59,655.72 L160.12,655.06 L160.66,654.40 L161.21,653.75 L161.76,653.11 L162.33,652.48 L162.89,651.85 L163.47,651.22 L164.06,650.61 L164.65,650.00 L165.25,649.40 L165.86,648.81 L166.47,648.23 L167.10,647.65 L167.73,647.08 L168.37,646.52 L169.02,645.97 L169.68,645.42 L170.34,644.89 L171.02,644.36 L171.70,643.84 L172.39,643.33 L173.08,642.83 L173.79,642.33 L174.50,641.85 L175.22,641.38 L175.94,640.91 L176.67,640.45 L177.41,640.01 L178.15,639.57 L178.91,639.14 L179.66,638.72 L180.43,638.31 L181.20,637.91 L181.97,637.52 L182.75,637.14 L183.54,636.77 L184.33,636.41 L185.13,636.06 L185.93,635.72 L186.73,635.39 L187.55,635.07 L188.36,634.77 L189.18,634.47 L190.01,634.18 L190.84,633.91 L191.67,633.64 L192.51,633.39 L193.35,633.14 L194.20,632.91 L195.05,632.69 L195.90,632.48 L196.75,632.27 L197.61,632.08 L198.47,631.90 L199.34,631.72 L200.20,631.55 L201.07,631.39 L201.95,631.24 L202.82,631.10 L203.70,630.97 L204.58,630.84 L205.46,630.72 L206.34,630.60 L207.22,630.49 L208.11,630.39 L208.99,630.29 L209.88,630.20 L210.77,630.12 L211.66,630.03 L212.55,629.96 L213.44,629.89 L214.33,629.82 L215.22,629.76 L216.11,629.70 L217.00,629.64 L217.90,629.59 L218.79,629.54 L219.68,629.49 L220.57,629.44 L221.46,629.40 L222.35,629.35 L223.23,629.31 L224.12,629.27 L225.01,629.24 L225.89,629.20 L226.77,629.16 L227.65,629.12 L228.53,629.08 L229.41,629.04 L230.28,629.01 L231.16,628.96 L232.03,628.92 L232.89,628.88 L233.76,628.83 L234.62,628.79 L235.48,628.74 L236.34,628.69 L237.19,628.63 L238.04,628.57 L238.88,628.51 L239.73,628.44 L240.57,628.37 L241.40,628.30 L245.28,628.18 L249.17,628.05 L253.05,627.94 L256.93,627.83 L260.82,627.74 L264.70,627.66 L268.58,627.61 L272.47,627.58 L276.35,627.56 L280.24,627.53 L284.12,627.51 L288.00,627.49 L291.89,627.47 L295.77,627.45 L299.65,627.44 L303.54,627.42 L307.42,627.41 L311.30,627.41 L315.19,627.40 L319.07,627.40 L322.95,627.40 L326.84,627.40 L330.72,627.40 L334.61,627.40 L338.49,627.40 L342.37,627.40 L346.26,627.40 L350.14,627.40 L354.02,627.40 L357.91,627.40 L361.79,627.40 L365.67,627.40 L369.56,627.40 L373.44,627.40 L377.32,627.40 L381.21,627.40 L385.09,627.40 L388.97,627.40 L392.86,627.40 L396.74,627.40 L400.63,627.40 L404.51,627.40 L408.39,627.40 L412.28,627.40 L416.16,627.40 L420.04,627.40 L423.93,627.40 L427.81,627.40 L431.69,627.40 L435.58,627.40 L439.46,627.40 L443.34,627.40 L447.23,627.40 L451.11,627.40 L454.99,627.40 L458.88,627.40 L462.76,627.40 L466.65,627.40 L470.53,627.40 L474.41,627.40 L478.30,627.40 L482.18,627.40 L486.06,627.40 L489.95,627.40 L493.83,627.40 L497.71,627.40 L501.60,627.40 L505.48,627.40 L509.36,627.40 L513.25,627.40 L517.13,627.40 L521.02,627.40 L524.90,627.40 L528.78,627.40 L532.67,627.40 L536.55,627.40 L540.43,627.40 L544.32,627.40 L548.20,627.40" fill="none" stroke="#222" stroke-width="1.0" stroke-linejoin="round"/>
<polygon points="531.20,818.05 538.00,828.95 524.40,828.95" fill="#fff" stroke="#222" stroke-width="1.1" stroke-linejoin="miter"/>
<polygon points="532.50,847.90 540.00,859.70 525.00,859.70" fill="#111"/>
<text transform="translate(550.9,830.9) scale(1,1.05)" font-size="23.9">T394P</text>
<text transform="translate(553.4,859) scale(1,1.05)" font-size="23.8">R510H</text>
<text transform="translate(101.3,916.30) scale(1,1.05)" font-size="27.3" text-anchor="end">0.00</text>
<text transform="translate(101.3,840.68) scale(1,1.05)" font-size="27.3" text-anchor="end">0.05</text>
<text transform="translate(101.3,765.06) scale(1,1.05)" font-size="27.3" text-anchor="end">0.10</text>
<text transform="translate(101.3,689.44) scale(1,1.05)" font-size="27.3" text-anchor="end">0.15</text>
<text transform="translate(101.3,613.82) scale(1,1.05)" font-size="27.3" text-anchor="end">0.20</text>
<text transform="translate(101.3,538.20) scale(1,1.05)" font-size="27.3" text-anchor="end">0.25</text>
<text transform="translate(115.40,945) scale(1,1.05)" font-size="27.3" text-anchor="middle">0</text>
<text transform="translate(223.40,945) scale(1,1.05)" font-size="27.3" text-anchor="middle">200</text>
<text transform="translate(331.40,945) scale(1,1.05)" font-size="27.3" text-anchor="middle">400</text>
<text transform="translate(439.40,945) scale(1,1.05)" font-size="27.3" text-anchor="middle">600</text>
<text transform="translate(547.40,945) scale(1,1.05)" font-size="27.3" text-anchor="middle">800</text>
<text transform="translate(655.40,945) scale(1,1.05)" font-size="27.3" text-anchor="middle">1000</text>
<text transform="translate(406.4,981.7) scale(1,1.05)" font-size="27.0" text-anchor="middle">ATP (µM)</text>
<text transform="translate(33.9,768.0) rotate(-90)" font-size="29">V<tspan font-size="18.5" dy="2">0</tspan><tspan dy="-2"> (µMs</tspan><tspan font-size="18.5" dy="-8.6">-1</tspan><tspan dy="8.6">)</tspan></text>
<text transform="translate(3,490.1) scale(1,1.05)" font-size="25.5">(b)</text>
</svg>
</body></html>
